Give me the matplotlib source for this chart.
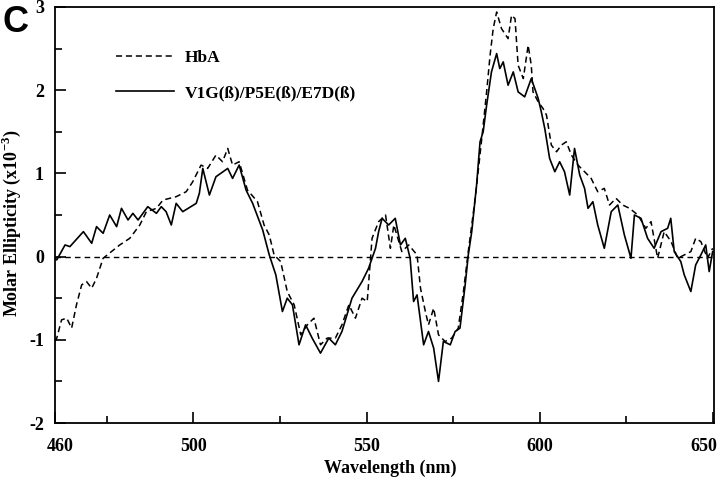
"""CD spectra: HbA vs V1G/P5E/E7D(beta) mutant, visible region."""
import matplotlib
matplotlib.use("Agg")
import matplotlib.pyplot as plt
import matplotlib.transforms as mtransforms
from matplotlib.ticker import MultipleLocator, FixedLocator

# --- data (wavelength nm, molar ellipticity x10^-3) ---
hba_wl = [460, 460.5, 461.9, 463.4, 464.8, 466.2, 467.7, 469.1, 470.6, 472,
          473.9, 476.3, 478.7, 481.6, 484.5, 486.4, 489.3, 491.2, 495, 497.9,
          499.8, 502.2, 504.1, 506.5, 508.4, 509.9, 511.3, 513.2, 515.6, 518.5,
          520.4, 521.9, 523.3, 525.2, 527.1, 529.1, 531, 532.9, 534.8, 536.7,
          538.6, 541, 542.9, 544.9, 546.8, 548.7, 550.2, 551.6, 553.5, 555.5,
          556.9, 557.9, 560.2, 562.2, 564.6, 565.6, 567, 567.9, 569.4, 570.8,
          572.7, 574.6, 576.5, 578, 579.4, 581.4, 583.3, 584.7, 585.7, 586.6,
          587.6, 589, 590.9, 591.9, 592.9, 593.8, 595.3, 596.7, 597.6, 598.1,
          599.6, 601, 602, 603.4, 604.9, 606.3, 607.7, 609.2, 611.1, 613,
          614.9, 616.8, 618.7, 620.2, 622.1, 624, 626, 628.4, 630.7, 632.2,
          634.1, 636, 638, 639.9, 641.8, 643.7, 645.1, 646.6, 648.5, 650]
hba_val = [-1.02, -0.98, -0.76, -0.74, -0.86, -0.58, -0.34, -0.3, -0.38, -0.26,
           -0.02, 0.06, 0.14, 0.22, 0.38, 0.54, 0.58, 0.68, 0.72, 0.78,
           0.9, 1.1, 1.06, 1.22, 1.14, 1.3, 1.1, 1.14, 0.8, 0.66,
           0.38, 0.26, 0.02, -0.06, -0.42, -0.58, -0.94, -0.82, -0.74, -1.06,
           -0.98, -0.98, -0.82, -0.58, -0.74, -0.5, -0.54, 0.22, 0.42, 0.5,
           0.1, 0.38, 0.06, 0.14, 0.02, -0.38, -0.66, -0.82, -0.62, -0.94,
           -1.02, -0.98, -0.86, -0.42, 0.06, 0.7, 1.42, 1.98, 2.42, 2.74,
           2.94, 2.74, 2.62, 2.9, 2.86, 2.3, 2.14, 2.54, 2.3, 1.98,
           1.86, 1.78, 1.7, 1.34, 1.26, 1.34, 1.38, 1.22, 1.1, 1.02,
           0.94, 0.78, 0.82, 0.62, 0.7, 0.62, 0.58, 0.5, 0.34, 0.42,
           -0.02, 0.3, 0.18, -0.02, 0.02, 0.06, 0.22, 0.18, -0.02, 0.1]

mut_wl = [460, 460.5, 462.9, 464.3, 468.2, 470.6, 472, 473.9, 475.8, 477.8,
          479.2, 481.1, 482.5, 484, 486.8, 489.3, 490.7, 492.1, 493.6, 495,
          496.9, 500.8, 501.7, 502.7, 504.6, 506.5, 509.9, 511.3, 513.2, 515.2,
          517.1, 520, 521.9, 523.8, 525.7, 527.1, 528.6, 530.5, 532.4, 534.3,
          536.7, 539.1, 541, 542.9, 545.8, 548.7, 550.6, 552.6, 553.5, 554.5,
          556.4, 558.3, 559.8, 561.2, 562.6, 563.6, 564.6, 566.5, 567.9, 569.4,
          570.8, 572.2, 574.2, 575.6, 577, 578.5, 579.4, 580.4, 581.8, 582.8,
          583.7, 584.7, 586.1, 587.6, 588.5, 589.5, 590.9, 592.4, 593.8, 595.7,
          597.6, 599.6, 600.5, 601.5, 602.9, 604.4, 605.8, 607.2, 608.7, 610.1,
          611.6, 613, 614, 615.4, 616.8, 618.7, 620.7, 622.6, 624.5, 626.4,
          627.4, 629.3, 631.2, 633.1, 635.1, 637, 637.9, 638.9, 640.8, 641.8,
          643.7, 645.1, 646.6, 648, 649, 650]
mut_val = [-0.02, -0.04, 0.14, 0.12, 0.3, 0.16, 0.36, 0.28, 0.5, 0.36,
           0.58, 0.44, 0.52, 0.44, 0.6, 0.52, 0.6, 0.54, 0.38, 0.64,
           0.54, 0.64, 0.76, 1.06, 0.74, 0.96, 1.06, 0.94, 1.1, 0.8,
           0.64, 0.32, 0.02, -0.22, -0.66, -0.5, -0.58, -1.06, -0.82, -0.98,
           -1.16, -0.98, -1.06, -0.9, -0.5, -0.3, -0.14, 0.1, 0.3, 0.46,
           0.38, 0.46, 0.14, 0.22, -0.02, -0.54, -0.46, -1.06, -0.9, -1.1,
           -1.5, -1.02, -1.06, -0.9, -0.86, -0.34, 0.02, 0.3, 0.86, 1.38,
           1.5, 1.82, 2.22, 2.44, 2.26, 2.34, 2.06, 2.22, 1.98, 1.92,
           2.14, 1.9, 1.74, 1.54, 1.18, 1.02, 1.14, 1.02, 0.74, 1.3,
           0.98, 0.82, 0.58, 0.66, 0.38, 0.1, 0.54, 0.62, 0.26, -0.02,
           0.5, 0.46, 0.22, 0.1, 0.3, 0.34, 0.46, 0.06, -0.06, -0.22,
           -0.42, -0.1, 0.02, 0.14, -0.18, 0.06]

x_major = [460, 500, 550, 600, 650]
x_minor = [475, 525, 575, 625]

plt.rcParams['font.family'] = ['Liberation Serif', 'DejaVu Serif']
plt.rcParams['font.weight'] = 'bold'
plt.rcParams['axes.unicode_minus'] = False
plt.rcParams['mathtext.fontset'] = 'custom'
plt.rcParams['mathtext.rm'] = 'Liberation Serif:bold'
plt.rcParams['mathtext.bf'] = 'Liberation Serif:bold'

fig = plt.figure(figsize=(7.2, 4.79), dpi=100)
ax = fig.add_axes([0.0764, 0.1169, 0.9153, 0.8685])

ax.plot(hba_wl, hba_val, color='black', lw=1.1, ls=(0, (4, 2.5)), label='HbA')
ax.plot(mut_wl, mut_val, color='black', lw=1.2, label='V1G(ß)/P5E(ß)/E7D(ß)')
ax.axhline(0, color='black', lw=1.0, ls=(0, (4, 3)))

ax.set_xlim(460, 650.4)
ax.set_ylim(-2, 3)
ax.xaxis.set_major_locator(FixedLocator(x_major))
ax.xaxis.set_minor_locator(FixedLocator(x_minor))
ax.yaxis.set_major_locator(MultipleLocator(1))
ax.yaxis.set_minor_locator(MultipleLocator(0.5))
ax.tick_params(which='both', direction='in', top=False, right=False,
               labelsize=13, width=1.2)
ax.tick_params(which='major', length=8)
ax.tick_params(axis='x', which='major', pad=11)
ax.tick_params(axis='y', which='major', pad=8)
ax.tick_params(which='minor', length=5)
for s in ax.spines.values():
    s.set_linewidth(1.3)

# end labels sit a little inward, as in the original
fig.canvas.draw()
xlabels = ax.get_xticklabels()
xlabels[0].set_transform(xlabels[0].get_transform() +
                         mtransforms.ScaledTranslation(5 / 100, 0, fig.dpi_scale_trans))
xlabels[-1].set_transform(xlabels[-1].get_transform() +
                          mtransforms.ScaledTranslation(-9 / 100, 0, fig.dpi_scale_trans))

ax.set_xlabel('Wavelength (nm)', fontsize=13, fontweight='bold')
ax.xaxis.set_label_coords(0.509, -0.088)
ax.set_ylabel(r'Molar Ellipticity (x10$^{-3}$)', fontsize=13, fontweight='bold')
ax.yaxis.set_label_coords(-0.049, 0.48)

ax.legend(loc='upper left', bbox_to_anchor=(0.093, 0.897), frameon=False,
          fontsize=12.5, handlelength=3.3, handletextpad=0.63, labelspacing=1.1,
          borderpad=0, borderaxespad=0)

fig.text(0.004, 0.99, 'C', family='Liberation Sans', fontsize=26,
         fontweight='bold', va='top', ha='left')

fig.savefig('out.png', dpi=100)
